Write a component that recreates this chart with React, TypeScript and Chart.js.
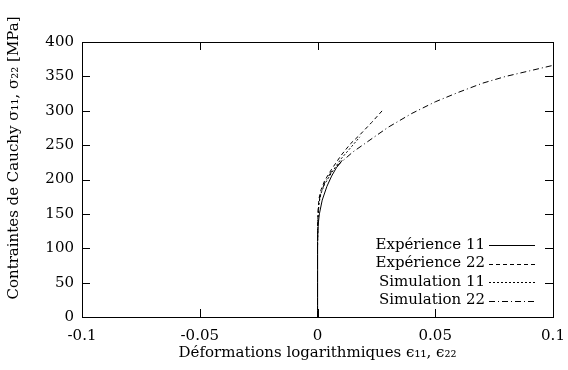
import React, { useEffect, useRef } from "react";
import { Chart, registerables } from "chart.js";

Chart.register(...registerables);

const xTicks = [-0.1, -0.05, 0, 0.05, 0.1];
const yTicks = [0, 50, 100, 150, 200, 250, 300, 350, 400];

const seriesNames = ["Expérience 11", "Expérience 22", "Simulation 11", "Simulation 22"];
const xTitle = "Déformations logarithmiques ϵ₁₁, ϵ₂₂";
const yTitle = "Contraintes de Cauchy σ₁₁, σ₂₂ [MPa]";

const exp11X = [0, 0, 0.0001, 0.0003, 0.0008, 0.002, 0.004, 0.006, 0.008, 0.0105];
const exp11Y = [0, 60, 110, 135, 150, 170, 190, 205, 217, 228];

const exp22X = [0, 0, 0.0002, 0.0006, 0.0015, 0.003, 0.006, 0.01, 0.014, 0.018, 0.023, 0.028];
const exp22Y = [0, 100, 150, 172, 185, 198, 215, 235, 252, 265, 283, 302];

const sim11X = [0, 0, 0.0002, 0.0006, 0.0015, 0.003, 0.006, 0.01, 0.014, 0.018];
const sim11Y = [0, 100, 140, 165, 180, 193, 210, 230, 246, 262];

const sim22X = [0, 0, 0.0003, 0.001, 0.003, 0.006, 0.01, 0.015, 0.02, 0.03, 0.04, 0.05, 0.06, 0.07, 0.08, 0.09, 0.1];
const sim22Y = [0, 120, 155, 175, 195, 212, 225, 240, 252, 276, 296, 313, 327, 340, 350, 358, 366];

const dashes = [[], [4, 3], [2, 2], [6, 3, 1, 3]];

const FONT = "'DejaVu Serif', serif";
const FS = 15;

function pts(xs: number[], ys: number[]) {
  return xs.map((x, i) => ({ x, y: ys[i] }));
}

const decor = {
  id: "decor",
  afterDraw(chart: any) {
    const { ctx, chartArea: a, scales } = chart;
    const xs = scales.x;
    const ys = scales.y;
    ctx.save();
    ctx.strokeStyle = "#000";
    ctx.lineWidth = 1;
    ctx.setLineDash([]);
    const tl = 8;
    ctx.beginPath();
    xTicks.forEach((v) => {
      const px = Math.round(xs.getPixelForValue(v)) + 0.5;
      ctx.moveTo(px, a.bottom);
      ctx.lineTo(px, a.bottom - tl);
      ctx.moveTo(px, a.top);
      ctx.lineTo(px, a.top + tl);
    });
    yTicks.forEach((v) => {
      const py = Math.round(ys.getPixelForValue(v)) + 0.5;
      ctx.moveTo(a.left, py);
      ctx.lineTo(a.left + tl, py);
      ctx.moveTo(a.right, py);
      ctx.lineTo(a.right - tl, py);
    });
    ctx.stroke();
    ctx.strokeRect(Math.round(a.left) + 0.5, Math.round(a.top) + 0.5, Math.round(a.right - a.left), Math.round(a.bottom - a.top));

    // y title
    ctx.font = FS + "px " + FONT;
    ctx.fillStyle = "#000";
    ctx.save();
    ctx.translate(14, 158);
    ctx.rotate(-Math.PI / 2);
    ctx.textAlign = "center";
    ctx.textBaseline = "middle";
    ctx.fillText(yTitle, 0, 0);
    ctx.restore();

    // legend
    ctx.textAlign = "right";
    ctx.textBaseline = "middle";
    const textRight = a.right - 68;
    const y0 = a.bottom - 72;
    const step = 18.5;
    chart.data.datasets.forEach((ds: any, i: number) => {
      const y = y0 + i * step;
      ctx.fillText(ds.label, textRight, y);
      ctx.beginPath();
      ctx.setLineDash(ds.borderDash || []);
      ctx.moveTo(textRight + 4, Math.round(y) + 0.5);
      ctx.lineTo(textRight + 50, Math.round(y) + 0.5);
      ctx.stroke();
    });
    ctx.restore();
  },
};

export default function App() {
  const ref = useRef<HTMLCanvasElement>(null);
  useEffect(() => {
    const all = [
      pts(exp11X, exp11Y),
      pts(exp22X, exp22Y),
      pts(sim11X, sim11Y),
      pts(sim22X, sim22Y),
    ];
    const chart = new Chart(ref.current!, {
      type: "scatter",
      data: {
        datasets: all.map((d, i) => ({
          label: seriesNames[i],
          data: d,
          showLine: true,
          borderColor: "#000",
          backgroundColor: "#000",
          borderWidth: 1,
          borderDash: dashes[i],
          pointRadius: 0,
          tension: 0,
        })),
      },
      options: {
        responsive: false,
        animation: false,
        layout: { padding: { top: 42, right: 0, left: 0, bottom: 0 } },
        plugins: { legend: { display: false }, tooltip: { enabled: false } },
        scales: {
          x: {
            type: "linear",
            min: -0.1,
            max: 0.1,
            afterBuildTicks: (s: any) => {
              s.ticks = xTicks.map((v) => ({ value: v }));
            },
            afterFit: (s: any) => {
              s.height = 53;
              s.paddingRight = 15;
            },
            grid: { display: false, drawTicks: false },
            border: { display: false },
            ticks: {
              padding: 10,
              color: "#000",
              font: { family: FONT, size: FS },
              maxRotation: 0,
              callback: (v: any) => String(v),
            },
            title: {
              display: true,
              text: xTitle,
              color: "#000",
              font: { family: FONT, size: FS },
              padding: { top: 0, bottom: 8 },
            },
          },
          y: {
            type: "linear",
            min: 0,
            max: 400,
            afterBuildTicks: (s: any) => {
              s.ticks = yTicks.map((v) => ({ value: v }));
            },
            afterFit: (s: any) => {
              s.width = 82;
            },
            grid: { display: false, drawTicks: false },
            border: { display: false },
            ticks: {
              padding: 8,
              color: "#000",
              font: { family: FONT, size: FS },
              callback: (v: any) => String(v),
            },
            title: { display: false },
          },
        },
      },
      plugins: [decor],
    });
    return () => chart.destroy();
  }, []);
  return (
    <div style={{ position: "fixed", left: 0, top: 0, width: 568, height: 370, background: "#fff" }}>
      <canvas ref={ref} width={568} height={370} style={{ display: "block" }} />
    </div>
  );
}
